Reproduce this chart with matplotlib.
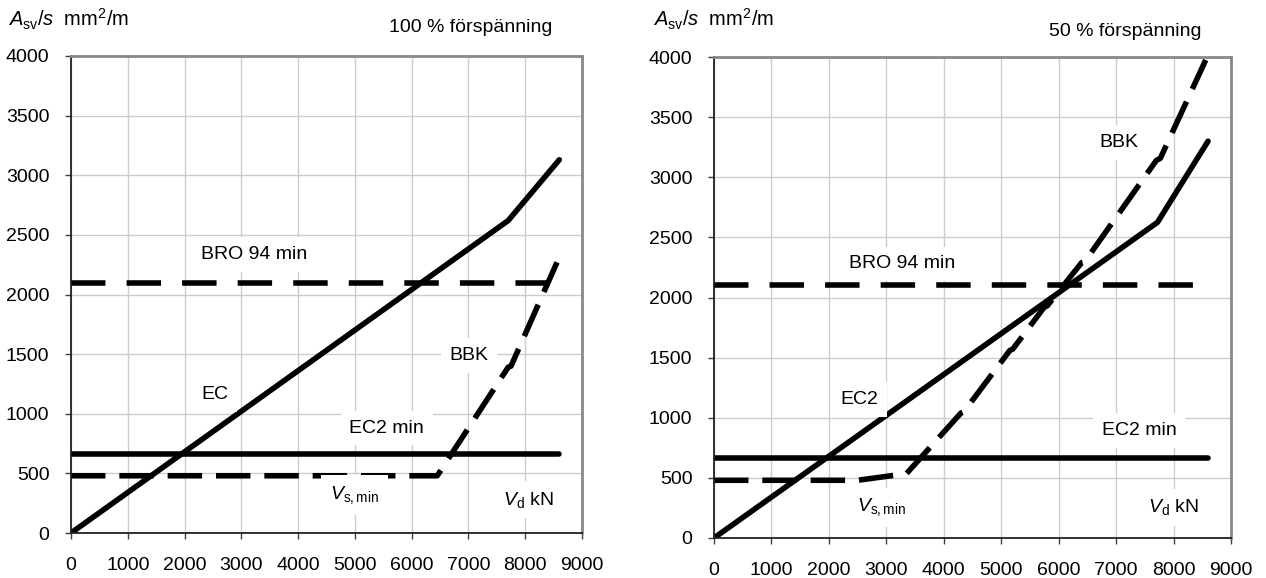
import matplotlib
matplotlib.use("Agg")
import matplotlib.pyplot as plt

plt.rcParams['font.family'] = ['Liberation Sans', 'DejaVu Sans']
plt.rcParams['mathtext.fontset'] = 'custom'
plt.rcParams['mathtext.rm'] = 'Liberation Sans'
plt.rcParams['mathtext.it'] = 'Liberation Sans:italic'
plt.rcParams['mathtext.bf'] = 'Liberation Sans:bold'

# ---------------- data ----------------
x_ticks = [0, 1000, 2000, 3000, 4000, 5000, 6000, 7000, 8000, 9000]
y_ticks = [0, 500, 1000, 1500, 2000, 2500, 3000, 3500, 4000]

# Left panel: 100 % förspänning
l_ec_x = [0, 7700, 8600]
l_ec_y = [0, 2620, 3130]
l_ec2min_x = [0, 8600]
l_ec2min_y = [665, 665]
l_bro_x = [0, 8520]
l_bro_y = [2100, 2100]
l_bbk_x = [0, 6450, 7700, 7750, 8560]
l_bbk_y = [480, 480, 1390, 1400, 2270]

# Right panel: 50 % förspänning
r_ec_x = [0, 7720, 8600]
r_ec_y = [0, 2625, 3300]
r_ec2min_x = [0, 8600]
r_ec2min_y = [665, 665]
r_bro_x = [0, 8500]
r_bro_y = [2100, 2100]
r_bbk_x = [0, 2500, 3350, 4300, 4350, 5150, 5200, 5750, 5800, 6400, 6450, 7700, 7770, 8560]
r_bbk_y = [480, 480, 535, 1040, 1050, 1560, 1570, 1920, 1930, 2290, 2295, 3140, 3158, 3975]

titles = ["100 % förspänning", "50 % förspänning"]
ylabel_txt = r"$A_{\rm sv}/s$  mm$^2$/m"

# label positions (data coords) per panel
left_labels = [("BRO 94 min", 3230, 2335), ("EC", 2535, 1160), ("EC2 min", 5560, 880),
               ("BBK", 7010, 1490), (r"$V_{\rm s,min}$", 4990, 320), (r"$V_{\rm d}$ kN", 8050, 280)]
right_labels = [("BRO 94 min", 3270, 2280), ("EC2", 2525, 1150), ("EC2 min", 7400, 895),
                ("BBK", 7040, 3290), (r"$V_{\rm s,min}$", 2920, 255), (r"$V_{\rm d}$ kN", 7990, 255)]

# --------------- figure ---------------
fig = plt.figure(figsize=(12.66, 5.78), dpi=100)
ax_l = fig.add_axes([71/1266, 1-533/578, (582-71)/1266, (533-56)/578])
ax_r = fig.add_axes([714/1266, 1-538/578, (1231-714)/1266, (538-57)/578])

LW = 4.0
DASH_BRO = (0, (6.2, 3.8))
DASH_BBK = (0, (6.2, 2.5))

def style(ax):
    ax.set_xlim(0, 9000)
    ax.set_ylim(0, 4000)
    ax.set_xticks(x_ticks)
    ax.set_yticks(y_ticks)
    ax.set_xticklabels([str(v) for v in x_ticks])
    ax.set_yticklabels([str(v) for v in y_ticks])
    ax.grid(True, color='#cccccc', linewidth=1.0, zorder=0)
    ax.set_axisbelow(True)
    ax.tick_params(axis='both', direction='out', length=4, width=1.0, color='#404040',
                   labelsize=14, labelcolor='black')
    ax.tick_params(axis='x', pad=13)
    ax.tick_params(axis='y', pad=11.5)
    ax.spines['left'].set_color('#202020')
    ax.spines['left'].set_linewidth(1.3)
    ax.spines['bottom'].set_color('#202020')
    ax.spines['bottom'].set_linewidth(1.3)
    for s in ('top', 'right'):
        ax.spines[s].set_color('#888888')
        ax.spines[s].set_linewidth(2.0)

def draw(ax, ec, ec2, bro, bbk, labels):
    ax.plot(ec[0], ec[1], color='black', lw=LW, solid_capstyle='round', solid_joinstyle='round', zorder=2)
    ax.plot(ec2[0], ec2[1], color='black', lw=LW, solid_capstyle='round', zorder=2)
    ax.plot(bro[0], bro[1], color='black', lw=LW, linestyle=DASH_BRO, dash_capstyle='butt', zorder=2)
    ax.plot(bbk[0], bbk[1], color='black', lw=LW, linestyle=DASH_BBK, dash_capstyle='butt', zorder=2)
    for txt, x, y in labels:
        ax.text(x, y, txt, fontsize=14, ha='center', va='center', zorder=3,
                bbox=dict(boxstyle='square,pad=0.45', facecolor='white', edgecolor='none'))

style(ax_l)
style(ax_r)
draw(ax_l, (l_ec_x, l_ec_y), (l_ec2min_x, l_ec2min_y), (l_bro_x, l_bro_y), (l_bbk_x, l_bbk_y), left_labels)
draw(ax_r, (r_ec_x, r_ec_y), (r_ec2min_x, r_ec2min_y), (r_bro_x, r_bro_y), (r_bbk_x, r_bbk_y), right_labels)

fig.text(8/1266, 1-19/578, ylabel_txt, fontsize=14.5, ha='left', va='center')
fig.text(653/1266, 1-19/578, ylabel_txt, fontsize=14.5, ha='left', va='center')
fig.text(471/1266, 1-27/578, titles[0], fontsize=14, ha='center', va='center')
fig.text(1125/1266, 1-32/578, titles[1], fontsize=14, ha='center', va='center')

fig.savefig("out.png", dpi=100, facecolor='white')
